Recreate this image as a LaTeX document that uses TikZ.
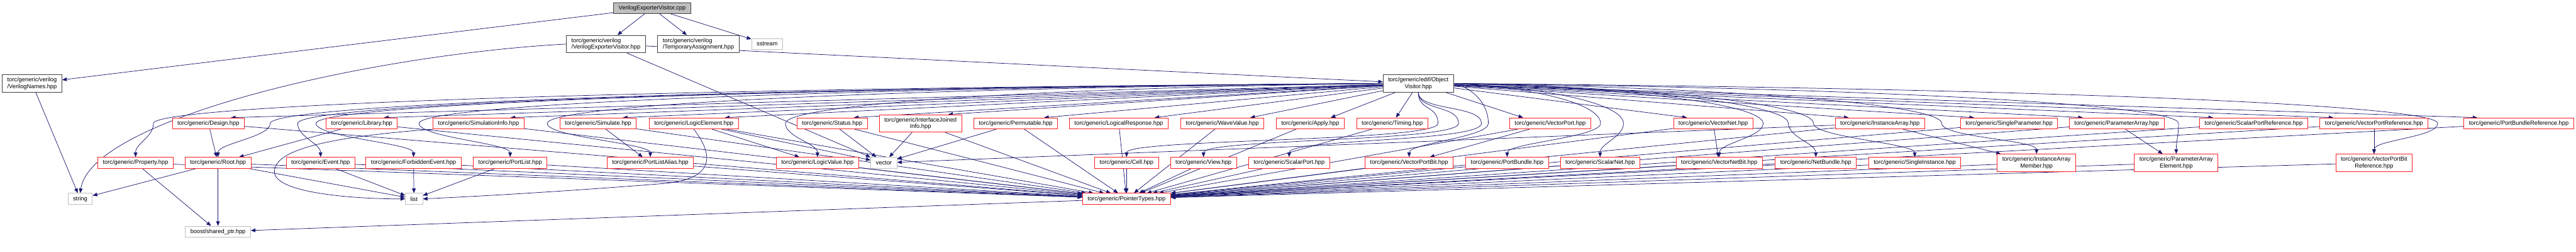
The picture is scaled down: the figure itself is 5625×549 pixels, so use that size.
\documentclass[tikz,border=0pt]{standalone}
\usepackage{fontspec}
\setmainfont{Liberation Sans}
\usetikzlibrary{
    arrows.meta,
    calc
}
\definecolor{edgeblue}{HTML}{191970}
\definecolor{hdrred}{HTML}{FF2020}
\definecolor{sysgray}{HTML}{BFBFBF}
\definecolor{knowngray}{HTML}{404040}
\pgfdeclarelayer{bg}
\pgfsetlayers{bg,main}

\begin{document}
\begin{tikzpicture}[x=1pt,y=-1pt,
    every node/.style={font=\fontsize{12.8}{14.5}\selectfont, inner xsep=11pt,
        inner ysep=2pt, minimum height=24pt, line width=1.2pt, fill=white},
    hdr/.style={draw=hdrred},
    sys/.style={draw=sysgray},
    known/.style={draw=knowngray},
    srcfile/.style={draw=knowngray, fill=sysgray},
    twoline/.style={align=center, minimum height=38pt},
    dep/.style={draw=edgeblue, line width=1pt, -{Triangle[length=10pt,width=8pt]}}]

\useasboundingbox (0,0) rectangle (5625,549);

% Source file
\node[srcfile] (cpp) at (1424,17.5) {VerilogExporterVisitor.cpp};

% Verilog headers
\node[known, align=left, minimum height=38pt] (vevh) at (1323,96) {torc/generic/verilog\\/VerilogExporterVisitor.hpp};
\node[known, align=left, minimum height=38pt] (tmpa) at (1525,96) {torc/generic/verilog\\/TemporaryAssignment.hpp};
\node[sys] (sstr) at (1675,96) {sstream};
\node[known, align=left, minimum height=38pt] (vnames) at (70,182) {torc/generic/verilog\\/VerilogNames.hpp};
\node[known, twoline] (ov) at (3097,182) {torc/generic/edif/Object\\Visitor.hpp};

% Upper row of generic headers
\node[hdr] (design)   at (455,269)  {torc/generic/Design.hpp};
\node[hdr] (library)  at (790,269)  {torc/generic/Library.hpp};
\node[hdr] (siminfo)  at (1045,269) {torc/generic/SimulationInfo.hpp};
\node[hdr] (simulate) at (1306,269) {torc/generic/Simulate.hpp};
\node[hdr] (logicel)  at (1515,269) {torc/generic/LogicElement.hpp};
\node[hdr] (status)   at (1817,269) {torc/generic/Status.hpp};
\node[hdr, twoline] (ijinfo) at (2010,269) {torc/generic/InterfaceJoined\\Info.hpp};
\node[hdr] (permut)   at (2218,269) {torc/generic/Permutable.hpp};
\node[hdr] (logresp)  at (2443,269) {torc/generic/LogicalResponse.hpp};
\node[hdr] (wave)     at (2669,269) {torc/generic/WaveValue.hpp};
\node[hdr] (apply)    at (2861,269) {torc/generic/Apply.hpp};
\node[hdr] (timing)   at (3040,269) {torc/generic/Timing.hpp};
\node[hdr] (vport)    at (3385,269) {torc/generic/VectorPort.hpp};
\node[hdr] (vnet)     at (3741,269) {torc/generic/VectorNet.hpp};
\node[hdr] (instarr)  at (4105,269) {torc/generic/InstanceArray.hpp};
\node[hdr] (sparam)   at (4387,269) {torc/generic/SingleParameter.hpp};
\node[hdr] (parr)     at (4622,269) {torc/generic/ParameterArray.hpp};
\node[hdr] (sportref) at (4921,269) {torc/generic/ScalarPortReference.hpp};
\node[hdr] (vportref) at (5184,269) {torc/generic/VectorPortReference.hpp};
\node[hdr] (pbref)    at (5500,269) {torc/generic/PortBundleReference.hpp};

% Lower row of generic headers
\node[hdr] (property) at (296,355)  {torc/generic/Property.hpp};
\node[hdr] (root)     at (476,355)  {torc/generic/Root.hpp};
\node[hdr] (event)    at (700,355)  {torc/generic/Event.hpp};
\node[hdr] (forbid)   at (903,355)  {torc/generic/ForbiddenEvent.hpp};
\node[hdr] (plist)    at (1114,355) {torc/generic/PortList.hpp};
\node[hdr] (plalias)  at (1420,355) {torc/generic/PortListAlias.hpp};
\node[hdr] (logicval) at (1785,355) {torc/generic/LogicValue.hpp};
\node[sys] (vector)   at (1930,355) {vector};
\node[hdr] (cell)     at (2460,355) {torc/generic/Cell.hpp};
\node[hdr] (view)     at (2628,355) {torc/generic/View.hpp};
\node[hdr] (sport)    at (2815,355) {torc/generic/ScalarPort.hpp};
\node[hdr] (vpbit)    at (3077,355) {torc/generic/VectorPortBit.hpp};
\node[hdr] (pbundle)  at (3291,355) {torc/generic/PortBundle.hpp};
\node[hdr] (snet)     at (3494,355) {torc/generic/ScalarNet.hpp};
\node[hdr] (vnbit)    at (3754,355) {torc/generic/VectorNetBit.hpp};
\node[hdr] (nbundle)  at (3965,355) {torc/generic/NetBundle.hpp};
\node[hdr] (sinst)    at (4181,355) {torc/generic/SingleInstance.hpp};
\node[hdr, twoline] (iamember) at (4447,355) {torc/generic/InstanceArray\\Member.hpp};
\node[hdr, twoline] (paelem)   at (4752,355) {torc/generic/ParameterArray\\Element.hpp};
\node[hdr, twoline] (vpbref)   at (5184,355) {torc/generic/VectorPortBit\\Reference.hpp};

% Bottom
\node[sys] (string) at (175,433.5)  {string};
\node[sys] (list)   at (904,433.5)  {list};
\node[hdr] (ptypes) at (2460,433.5) {torc/generic/PointerTypes.hpp};
\node[sys] (shptr)  at (476,505)    {boost/shared\_ptr.hpp};

\begin{pgfonlayer}{bg}
% Source file includes
\foreach \t in {vevh,tmpa,sstr,vnames}
    \draw[dep] (cpp) -- (\t);

% Verilog headers
\draw[dep] (vnames) -- (string);
\draw[dep] (vevh.west) .. controls (800,120) and (200,260) .. (string.north);
\draw[dep] (vevh) -- (vector);
\draw[dep] (vevh) -- (ov);

% Visitor to upper row
\foreach \t in {design,library,siminfo,simulate,logicel,status,ijinfo,permut,logresp,wave,apply}
    \draw[dep] (ov) -- ($(\t.north east)+(-30,0)$);
\draw[dep] (ov) -- (timing);
\foreach \t in {vport,vnet,instarr,sparam,parr,sportref,vportref,pbref}
    \draw[dep] (ov) -- ($(\t.north west)+(30,0)$);

% Visitor to lower row, through the gaps
\foreach \t/\gx in {property/335,root/590,event/650,forbid/690,plist/915,plalias/1195,logicval/1715}{
    \pgfmathsetmacro\k{(3018-\gx)*0.6}
    \draw[dep] (ov.west) .. controls +(-\k,10) and +(0,-40) .. (\gx,269)
        .. controls +(0,30) and +(0,-30) .. (\t.north);
}
\foreach \t/\gx in {vpbit/3250,pbundle/3495,snet/3545,vnbit/3850,nbundle/3905,sinst/3960,iamember/4240,paelem/4757,vpbref/5323}{
    \pgfmathsetmacro\k{(\gx-3176)*0.6}
    \draw[dep] (ov.east) .. controls +(\k,10) and +(0,-40) .. (\gx,269)
        .. controls +(0,30) and +(0,-30) .. (\t.north);
}
\foreach \t/\gx in {cell/3140,view/3185,sport/3235}
    \draw[dep] (ov.south) .. controls +(0,40) and +(0,-40) .. (\gx,269)
        .. controls +(0,40) and +(0,-40) .. (\t.north);

% Between generic headers
\draw[dep] (design) -- (root);
\draw[dep] (library) -- (root);
\draw[dep] (simulate) -- (plalias);
\draw[dep] (logicel) -- (logicval);
\foreach \s in {logicel,status,ijinfo,permut,instarr}
    \draw[dep] (\s) -- (vector);
\draw[dep] (vport) -- (vpbit);
\draw[dep] (vnet) -- (vnbit);
\draw[dep] (instarr) -- (iamember);
\draw[dep] (parr) -- (paelem);
\draw[dep] (vportref) -- (vpbref);

% System headers
\foreach \s in {root,event,forbid,plist}
    \draw[dep] (\s) -- (list);
\draw[dep] (siminfo.south west) .. controls (700,300) and (590,330) .. (600,380)
    .. controls (615,425) and (800,434) .. (list.west);
\draw[dep] (logicel.south) .. controls (1560,340) and (1560,390) .. (1450,400)
    .. controls (1200,420) and (1000,430) .. (list.east);
\draw[dep] (root) -- (string);
\foreach \s in {property,root,ptypes}
    \draw[dep] (\s) -- (shptr);

% PointerTypes
\foreach \s in {design,library,property,root,event,forbid,siminfo,simulate,plist,plalias,
    logicel,logicval,status,ijinfo,permut,logresp,wave,apply,timing,cell,view,sport,vpbit,
    pbundle,snet,vport,vnet,vnbit,nbundle,sinst,instarr,iamember,sparam,parr,paelem,
    sportref,vportref,vpbref,pbref}
    \draw[dep] (\s) -- (ptypes);
\end{pgfonlayer}

\end{tikzpicture}
\end{document}
